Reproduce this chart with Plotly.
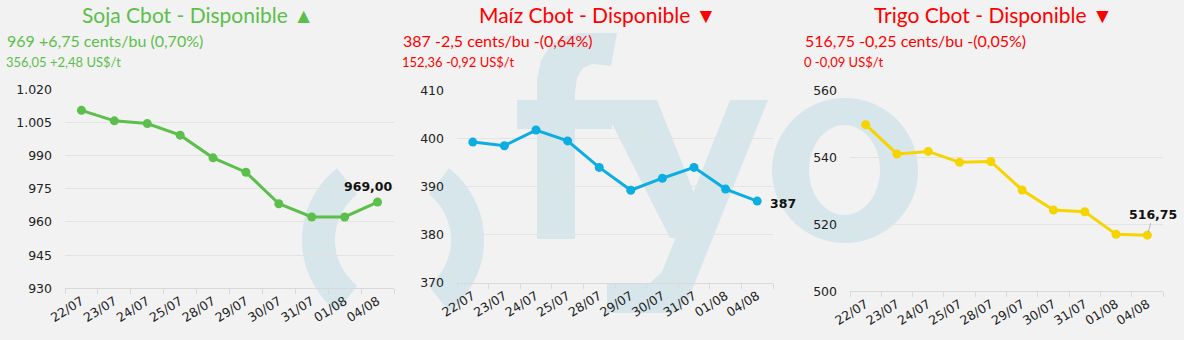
import math
import plotly.graph_objects as go

W, H = 1184, 340

# ---------------- data ----------------
dates = ["22/07", "23/07", "24/07", "25/07", "28/07", "29/07", "30/07", "31/07", "01/08", "04/08"]
soja = [1010.5, 1005.75, 1004.5, 999.25, 989.0, 982.5, 968.25, 962.25, 962.25, 969.0]
maiz = [399.25, 398.5, 401.75, 399.5, 394.0, 389.25, 391.75, 394.0, 389.5, 387.0]
trigo = [549.75, 541.0, 541.75, 538.5, 538.75, 530.25, 524.25, 523.75, 517.0, 516.75]

titles = ["Soja Cbot - Disponible ▲", "Maíz Cbot - Disponible ▼", "Trigo Cbot - Disponible ▼"]
sub1 = ["969 +6,75 cents/bu (0,70%)", "387 -2,5 cents/bu -(0,64%)", "516,75 -0,25 cents/bu -(0,05%)"]
sub2 = ["356,05 +2,48 US$/t", "152,36 -0,92 US$/t", "0 -0,09 US$/t"]
last_labels = ["969,00", "387", "516,75"]

y_ranges = [(930, 1020, 15), (370, 410, 10), (500, 560, 20)]

# ---------------- style ----------------
BG = "#f2f2f2"
GRID = "#e3e3e3"
AXIS = "#d9d9d9"
WM = "#d7e6ea"
line_colors = ["#5cbf4b", "#0cade3", "#f5d400"]
title_colors = ["#5cbf4b", "#ff0000", "#ff0000"]

# pixel boxes of the three plot areas (left, right, top, bottom)
boxes = [(65, 394, 89.3, 288.3), (457, 773, 90.3, 283), (850, 1163, 90.3, 291.3)]
title_cx = [198, 597, 993]
sub_x = [5, 401, 803]


def fx(px):
    return px / W


def fy(py):
    return 1 - py / H


def pt(x, y):
    return f"{fx(x):.5f},{fy(y):.5f}"


def poly(points):
    return "M" + "L".join(pt(x, y) for x, y in points) + "Z"


def sector(cx, cy, ro, ri, a0, a1, n=40):
    outer = [(cx + ro * math.cos(math.radians(a0 + (a1 - a0) * k / n)),
              cy - ro * math.sin(math.radians(a0 + (a1 - a0) * k / n))) for k in range(n + 1)]
    inner = [(cx + ri * math.cos(math.radians(a1 - (a1 - a0) * k / n)),
              cy - ri * math.sin(math.radians(a1 - (a1 - a0) * k / n))) for k in range(n + 1)]
    return poly(outer + inner)


def ellipse(cx, cy, rx, ry, n=72):
    pts = [(cx + rx * math.cos(2 * math.pi * k / n), cy + ry * math.sin(2 * math.pi * k / n)) for k in range(n)]
    return poly(pts)


fig = go.Figure()

series = [soja, maiz, trigo]
for i, vals in enumerate(series):
    sfx = "" if i == 0 else str(i + 1)
    fig.add_trace(go.Scatter(
        x=dates, y=vals, mode="lines+markers",
        line=dict(color=line_colors[i], width=3),
        marker=dict(color=line_colors[i], size=9),
        xaxis="x" + sfx, yaxis="y" + sfx, showlegend=False, hoverinfo="x+y",
    ))

layout = dict(
    width=W, height=H,
    margin=dict(l=0, r=0, t=0, b=0, autoexpand=False),
    paper_bgcolor=BG, plot_bgcolor="rgba(0,0,0,0)",
    separators=",.",
    showlegend=False,
)

ytickfont = dict(family="DejaVu Sans, Verdana, sans-serif", size=12.5, color="#222222")
xtickfont = dict(family="DejaVu Sans, Verdana, sans-serif", size=12.5, color="#222222")
for i, (l, r, t, b) in enumerate(boxes):
    sfx = "" if i == 0 else str(i + 1)
    lo, hi, dt = y_ranges[i]
    layout["xaxis" + sfx] = dict(
        domain=[fx(l), fx(r)], anchor="y" + sfx, type="category", automargin=False,
        range=[-0.5, len(dates) - 0.5], tickson="boundaries",
        ticks="outside", ticklen=5, tickcolor=AXIS, showline=True, linecolor=AXIS,
        showgrid=False, zeroline=False, tickangle=-32, tickfont=xtickfont,
    )
    layout["yaxis" + sfx] = dict(
        domain=[fy(b), fy(t)], anchor="x" + sfx, range=[lo, hi], tick0=lo, dtick=dt, automargin=False,
        showgrid=True, gridcolor=GRID, gridwidth=1, zeroline=False, showline=False,
        ticks="", tickformat=",.0f", tickfont=ytickfont, ticklabelstandoff=12,
    )

fig.update_layout(**layout)

# ---------------- watermark (logo) ----------------
shapes = []
wm = dict(type="path", xref="paper", yref="paper", fillcolor=WM, line=dict(width=0), layer="below")
shapes.append(dict(wm, path=sector(393, 240, 91, 58, 128, 232)))
shapes.append(dict(wm, path=sector(393, 240, 91, 58, -52, 52)))
# f
shapes.append(dict(wm, path=poly([(537, 239), (537, 80), (541, 60), (552, 44), (566, 36), (580, 33),
                                  (617, 33), (611, 66), (592, 64), (583, 68), (577, 78), (575, 92),
                                  (575, 239)])))
shapes.append(dict(wm, path=poly([(517, 100), (612, 100), (612, 129), (517, 129)])))
# y
shapes.append(dict(wm, path=poly([(600, 100), (657, 100), (712, 238), (670, 238)])))
shapes.append(dict(wm, path=poly([(730, 100), (768, 100), (688, 300), (675, 313), (607, 313),
                                  (607, 283), (650, 283), (662, 272)])))
# o
shapes.append(dict(wm, path=ellipse(845, 170.5, 73, 72.5) + ellipse(844.5, 170, 35.5, 45), fillrule="evenodd"))
fig.update_layout(shapes=shapes)

# ---------------- texts ----------------
ann = []
for i in range(3):
    ann.append(dict(xref="paper", yref="paper", x=fx(title_cx[i]), y=fy(15), xanchor="center", yanchor="middle",
                    text=titles[i], showarrow=False,
                    font=dict(family="Lato, sans-serif", size=21, color=title_colors[i])))
    ann.append(dict(xref="paper", yref="paper", x=fx(sub_x[i]), y=fy(40), xanchor="left", yanchor="middle",
                    text=sub1[i], showarrow=False,
                    font=dict(family="Lato, sans-serif", size=16, color=title_colors[i])))
    ann.append(dict(xref="paper", yref="paper", x=fx(sub_x[i] - 1), y=fy(62), xanchor="left", yanchor="middle",
                    text=sub2[i], showarrow=False,
                    font=dict(family="Lato, sans-serif", size=13, color=title_colors[i])))

lblfont = dict(family="DejaVu Sans, Verdana, sans-serif", size=12.5, color="#111111", weight="bold")
ann.append(dict(xref="x", yref="y", x=dates[-1], y=soja[-1], text=last_labels[0], showarrow=False,
                xshift=-9, yshift=16, font=lblfont))
ann.append(dict(xref="x2", yref="y2", x=dates[-1], y=maiz[-1], text=last_labels[1], showarrow=False,
                xshift=26, yshift=-2, font=lblfont))
ann.append(dict(xref="x3", yref="y3", x=dates[-1], y=trigo[-1], text=last_labels[2], showarrow=True,
                arrowhead=0, arrowwidth=0.8, arrowcolor="#aaaaaa", ax=6, ay=-21, standoff=3,
                font=lblfont))
fig.update_layout(annotations=ann)

fig.write_html("out.html")
